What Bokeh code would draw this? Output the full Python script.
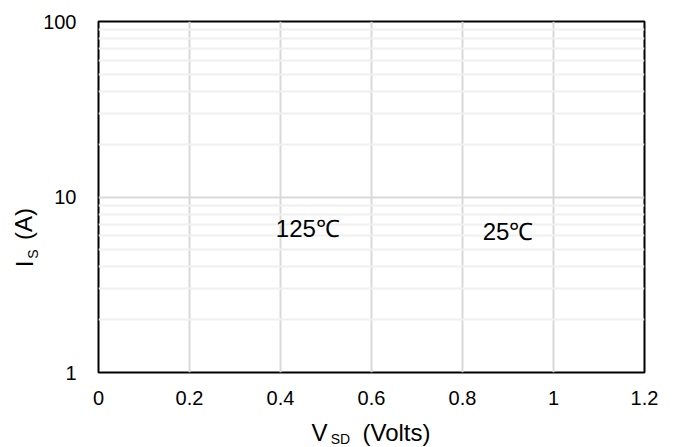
from bokeh.plotting import figure
from bokeh.models import FixedTicker, PrintfTickFormatter, ColumnDataSource
from bokeh.layouts import row, column
from bokeh.embed import file_html
from bokeh.resources import INLINE
from bokeh.core.properties import value
import math

# ---- data ----
x_ticks = [0, 0.2, 0.4, 0.6, 0.8, 1.0, 1.2]
x_tick_labels = ["0", "0.2", "0.4", "0.6", "0.8", "1", "1.2"]
y_ticks = [1, 10, 100]
y_minor = [2, 3, 4, 5, 6, 7, 8, 9, 20, 30, 40, 50, 60, 70, 80, 90]
temp_labels = ["125\u2103", "25\u2103"]
temp_x = [0.46, 0.90]
temp_y = [6.6, 6.35]
x_title = ["V", "SD", "(Volts)"]
y_title = ["I", "S", "(A)"]

FONT = "Liberation Sans"
W, H = 675, 447
YW = 40
XH = 30
MH = H - XH
FRAME_TOP, FRAME_BOTTOM = 21, 372

p = figure(width=W - YW, height=MH, x_range=(0, 1.2), y_range=(1, 100),
           y_axis_type="log", output_backend="svg", toolbar_location=None,
           title=None,
           min_border_left=98 - YW, min_border_right=31,
           min_border_top=FRAME_TOP, min_border_bottom=MH - FRAME_BOTTOM)
p.background_fill_color = "white"
p.border_fill_color = "white"
p.outline_line_color = "black"
p.outline_line_width = 2

p.xaxis.ticker = FixedTicker(ticks=x_ticks)
p.xaxis.major_label_overrides = {t: l for t, l in zip(x_ticks, x_tick_labels)}
p.yaxis.ticker = FixedTicker(ticks=y_ticks, minor_ticks=y_minor)
p.yaxis.formatter = PrintfTickFormatter(format="%d")

for ax in (p.xaxis, p.yaxis):
    ax.axis_line_color = None
    ax.major_tick_line_color = None
    ax.minor_tick_line_color = None
    ax.major_tick_out = 0
    ax.major_tick_in = 0
    ax.major_label_text_font = FONT
    ax.major_label_text_font_size = "20px"
    ax.major_label_text_color = "black"
p.yaxis.major_label_standoff = 18
p.xaxis.major_label_standoff = 18

p.xgrid.grid_line_color = "#d9d9d9"
p.xgrid.grid_line_width = 2
p.ygrid.grid_line_color = "#d9d9d9"
p.ygrid.grid_line_width = 2
p.ygrid.minor_grid_line_color = "#f0f0f0"
p.ygrid.minor_grid_line_width = 2

src = ColumnDataSource(dict(x=temp_x, y=temp_y, t=temp_labels))
p.text(x="x", y="y", text="t", source=src, text_font=value(FONT),
       text_font_size="24px", text_align="center", text_baseline="middle",
       text_color="black")


def strip(w, h, xr, yr):
    f = figure(width=w, height=h, x_range=xr, y_range=yr,
               output_backend="svg", toolbar_location=None, title=None,
               x_axis_location=None, y_axis_location=None,
               min_border=0, min_border_left=0, min_border_right=0,
               min_border_top=0, min_border_bottom=0)
    f.grid.visible = False
    f.outline_line_color = None
    f.background_fill_color = "white"
    f.border_fill_color = "white"
    return f


# x title strip: anchored to its top edge, pieces offset downward in pixels
xf = strip(W, XH, (0, W), (0, XH))
xs = dict(x=[319, 340, 396], y=[XH, XH, XH], dy=[14.5, 21.5, 14.7],
          t=x_title, s=["24px", "14px", "24px"])
xf.text(x="x", y="y", text="t", y_offset="dy", source=ColumnDataSource(xs),
        text_font=value(FONT), text_font_size="s", text_align="center",
        text_baseline="middle", text_color="black")

# y title strip: its frame is aligned with the main frame (rows align frames)
FH = FRAME_BOTTOM - FRAME_TOP
yf = strip(YW, MH, (0, YW), (0, FH))
ys = dict(x=[23.5, 32, 23], y=[FRAME_BOTTOM - 263.5, FRAME_BOTTOM - 253.5,
                              FRAME_BOTTOM - 223.5],
          t=y_title, s=["24px", "14px", "24px"])
yf.text(x="x", y="y", text="t", source=ColumnDataSource(ys),
        text_font=value(FONT), text_font_size="s", text_align="center",
        text_baseline="middle", text_color="black", angle=math.pi / 2)

layout = column(row(yf, p, spacing=0), xf, spacing=0)
open("out.html", "w").write(file_html(layout, INLINE))
